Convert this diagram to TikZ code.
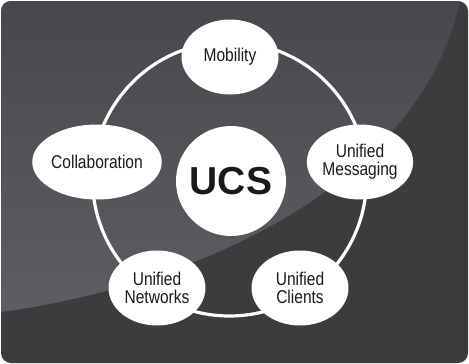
\documentclass[tikz,border=0pt]{standalone}
\usepackage{fontspec}
\setmainfont{Liberation Sans}
\newfontfamily\narrowfont{Liberation Sans}[FakeStretch=0.84]
\usetikzlibrary{shapes.geometric}
\definecolor{bgdark}{HTML}{3C3C3F}
\definecolor{bglighttop}{HTML}{47484B}
\definecolor{bglightbot}{HTML}{5C5E61}
\definecolor{txt}{HTML}{1A1A1A}
\begin{document}
\begin{tikzpicture}[x=1pt,y=-1pt,
  item/.style={ellipse, fill=white, minimum width=97pt, minimum height=75pt, inner sep=0pt, align=center, font=\narrowfont\fontsize{18.5}{18}\selectfont, text=txt},
  hub/.style={circle, fill=white, minimum size=110pt, inner sep=0pt, font=\bfseries\fontsize{39}{39}\selectfont, text=txt},
  ringline/.style={white, line width=3.2pt}]
\useasboundingbox (0,0) rectangle (469,364);
\fill[bgdark, rounded corners=10pt] (1,1) rectangle (468,363);
\begin{scope}
  \clip[rounded corners=10pt] (1,1) rectangle (468,363);
  \shade[top color=bglighttop, bottom color=bglightbot] (0,0) -- (0,312) .. controls (170,290) and (418,198) .. (460,0) -- cycle;
\end{scope}
\coordinate (rc) at (229.5,179);
\draw[ringline] (rc) circle[radius=137];
\node[item] (mob) at (230,57) {Mobility};
\node[item] (col) at (97,162) {Collaboration};
\node[item] (msg) at (360,162) {Unified\\Messaging};
\node[item] (net) at (157,288) {Unified\\Networks};
\node[item] (cli) at (300,288) {Unified\\Clients};
\node[hub] (ucs) at (231,181) {UCS};
\end{tikzpicture}
\end{document}
